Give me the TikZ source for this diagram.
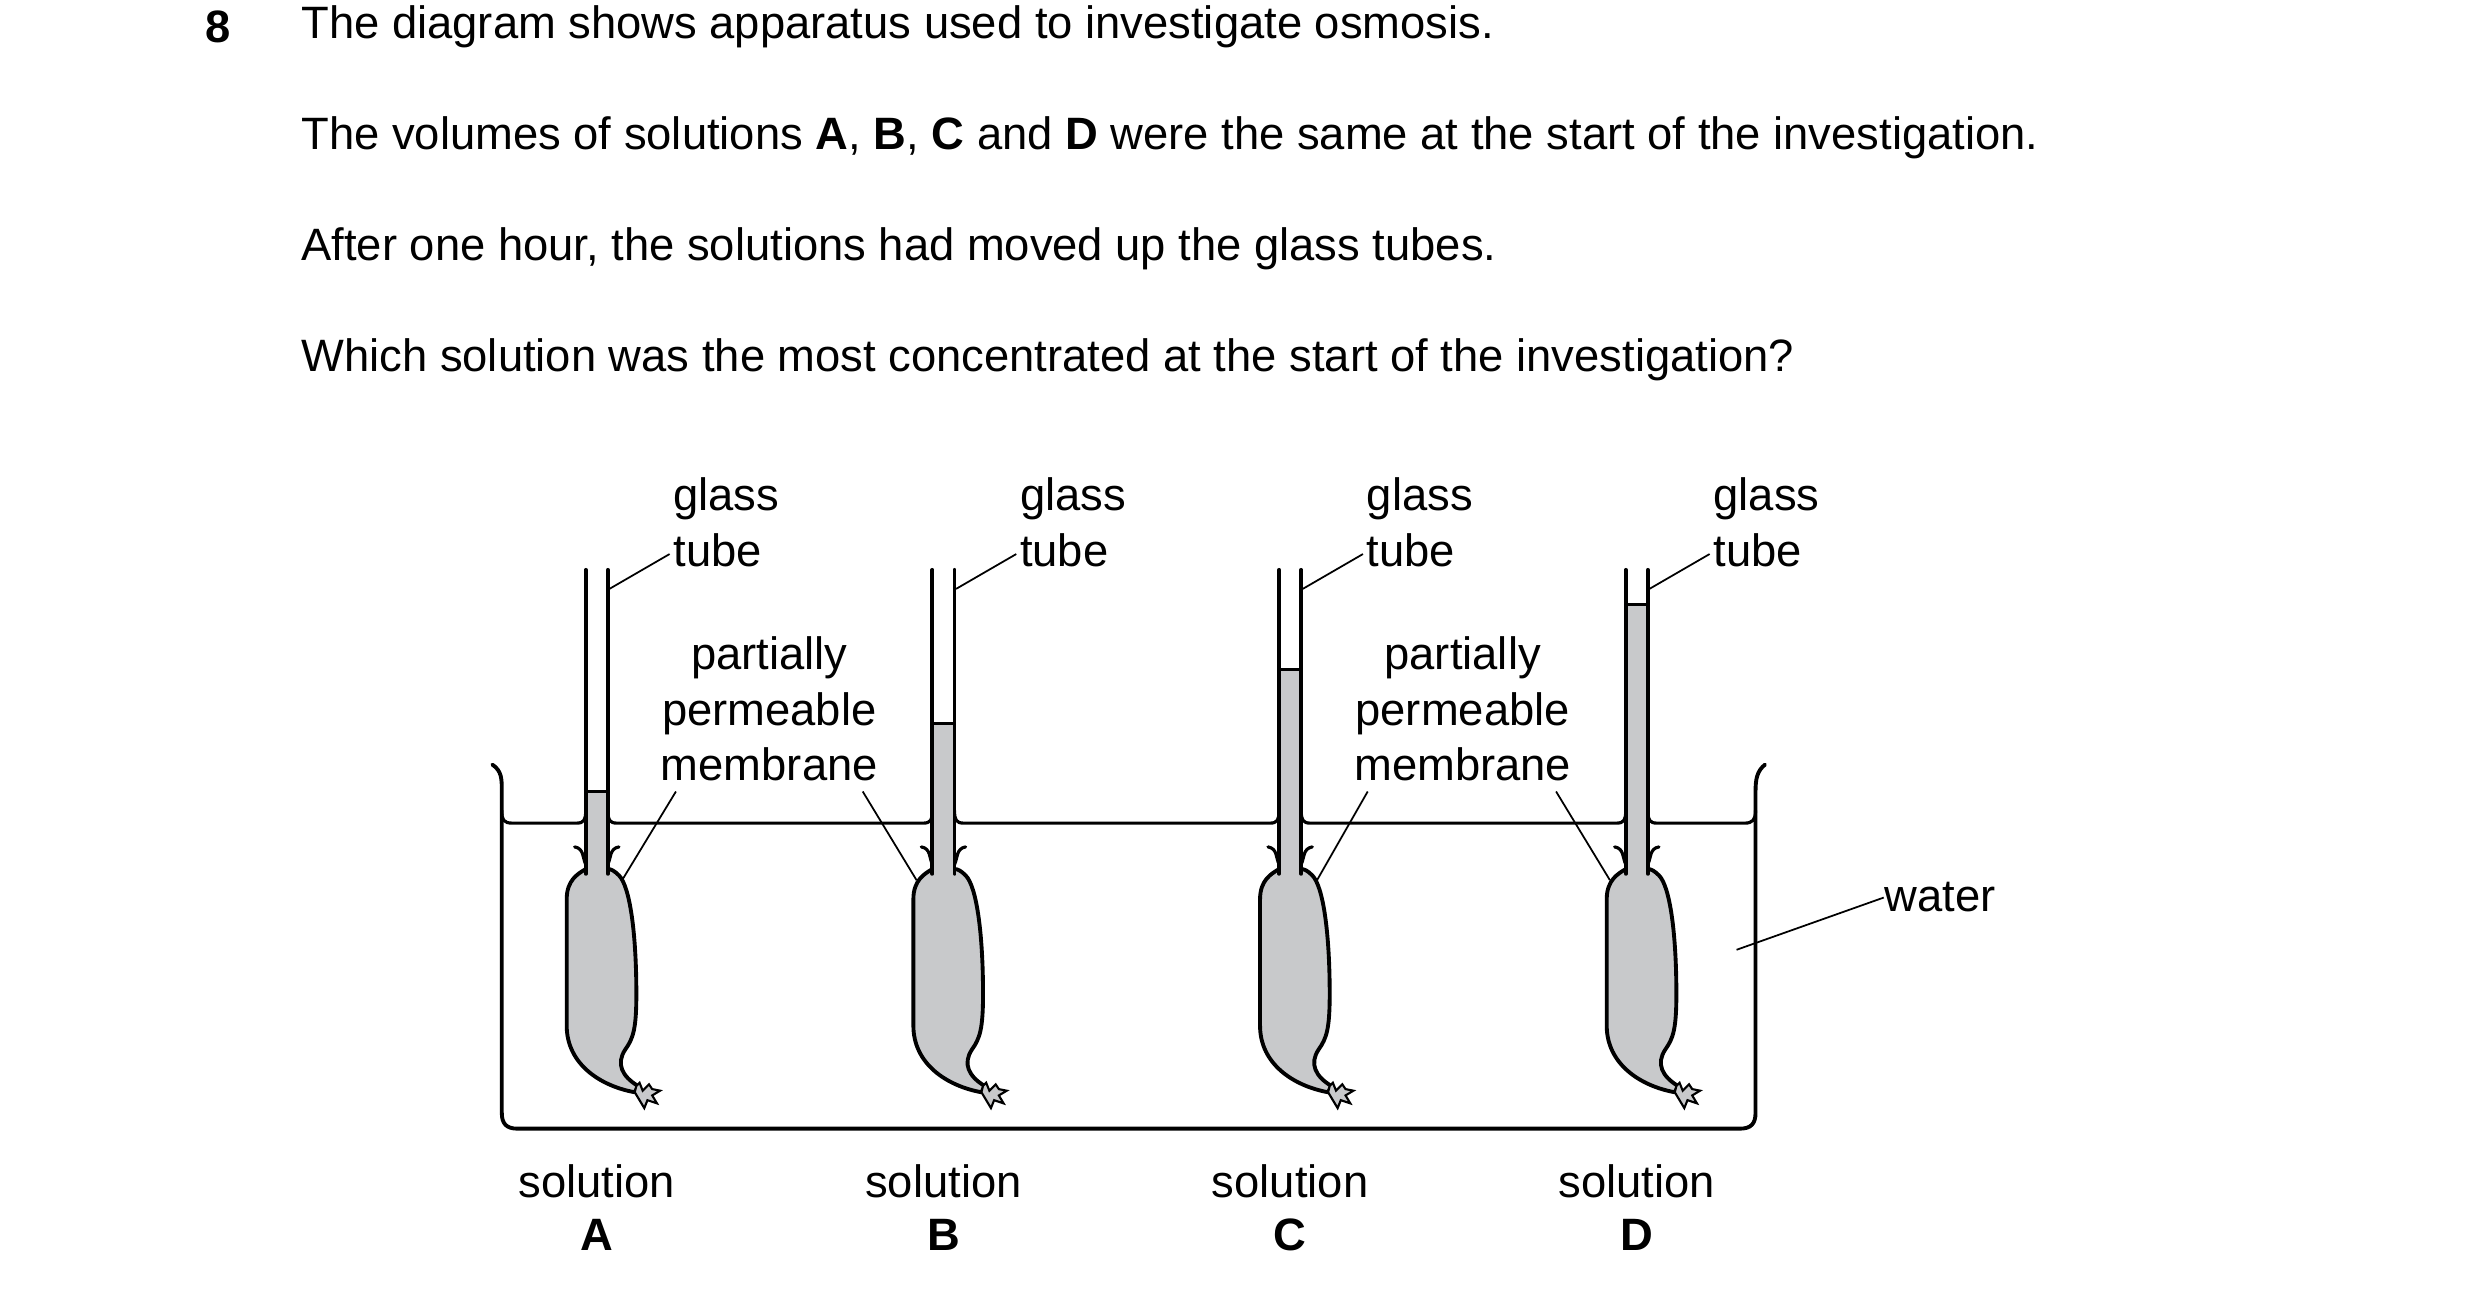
\documentclass[tikz,border=0pt]{standalone}
\usepackage{fontspec}
\setmainfont{Liberation Sans}
\usetikzlibrary{positioning}
\definecolor{fluid}{HTML}{C8C9CB}
\tikzset{
  txt/.style={font=\fontsize{12.9}{15.8}\selectfont, inner sep=0pt},
  lead/.style={line width=0.5pt},
  wall/.style={line width=1.1pt, line join=round, line cap=round},
}
\begin{document}
\begin{tikzpicture}[x=0.01583cm,y=-0.01583cm]
\useasboundingbox (0,0) rectangle (1567.3,815.6);
% question text
\node[txt,font=\bfseries\fontsize{12.9}{15.8}\selectfont] (num) at (138,17) {8};
\node[txt,anchor=west] (q1) at (190,17) {The diagram shows apparatus used to investigate osmosis.};
\node[txt,anchor=west] (q2) at (190,87) {The volumes of solutions \textbf{A}, \textbf{B}, \textbf{C} and \textbf{D} were the same at the start of the investigation.};
\node[txt,anchor=west] (q3) at (190,157) {After one hour, the solutions had moved up the glass tubes.};
\node[txt,anchor=west] (q4) at (190,227) {Which solution was the most concentrated at the start of the investigation?};
% beaker
\draw[wall] (311,483) .. controls (317,487) and (317,492) .. (317,500) -- (317,703)
  .. controls (317,710) and (320,713) .. (327,713) -- (1099,713)
  .. controls (1106,713) and (1109,710) .. (1109,703) -- (1109,500)
  .. controls (1109,492) and (1110,487) .. (1115,483);
% water surface
\draw[wall,line width=0.9pt] (317,512) .. controls (317,518) and (318,520) .. (324,520)
  -- (364,520) .. controls (369,520) and (370,518) .. (370,512);
\foreach \a/\b in {384/589,603/808,822/1027}
  \draw[wall,line width=0.9pt] (\a,512) .. controls (\a,518) and (\a+1,520) .. (\a+6,520)
  -- (\b-6,520) .. controls (\b-1,520) and (\b,518) .. (\b,512);
\draw[wall,line width=0.9pt] (1041,512) .. controls (1041,518) and (1042,520) .. (1047,520)
  -- (1102,520) .. controls (1107,520) and (1109,518) .. (1109,512);
% tubes and bags
\foreach \cx/\lvl/\n in {377/500/A,596/457/B,815/423/C,1034/382/D}{
  \filldraw[wall,fill=fluid] (\cx-7,549) .. controls (\cx-12,552) and (\cx-19,556) .. (\cx-19,568)
    -- (\cx-19,648) .. controls (\cx-19,672) and (\cx+2,686) .. (\cx+24,690)
    -- (\cx+26,686) .. controls (\cx+16,680) and (\cx+12,672) .. (\cx+18,663)
    .. controls (\cx+23,656) and (\cx+25,650) .. (\cx+25,628)
    .. controls (\cx+25,590) and (\cx+21,560) .. (\cx+14,553)
    .. controls (\cx+11,550) and (\cx+9,549) .. (\cx+7,549) -- cycle;
  % tie round the tube
  \draw[wall,line width=0.9pt] (\cx-14,535) .. controls (\cx-8,536) and (\cx-9,542) .. (\cx-7,546);
  \draw[wall,line width=0.9pt] (\cx+14,535) .. controls (\cx+8,536) and (\cx+9,542) .. (\cx+7,546);
  \fill[white] (\cx-6,\lvl-1) -- (\cx-6,360) -- (\cx+6,360) -- (\cx+6,\lvl-1);
  \fill[fluid] (\cx-6,\lvl) rectangle (\cx+6,552);
  \draw[line width=0.7pt] (\cx-7,\lvl) -- (\cx+7,\lvl);
  \draw[wall] (\cx-7,360) -- (\cx-7,552);
  \draw[wall] (\cx+7,360) -- (\cx+7,552);
  % knot
  \filldraw[line width=0.6pt,fill=fluid] (\cx+25,686) -- (\cx+27,684) -- (\cx+29,689) -- (\cx+33,685)
    -- (\cx+35,688) -- (\cx+40,689) -- (\cx+35,692) -- (\cx+38,697) -- (\cx+32,695) -- (\cx+30,700)
    -- (\cx+27,695) -- (\cx+24,690) -- cycle;
  \coordinate (t\n) at (\cx+8,372);
  \node[txt,anchor=west,align=left] (g\n) at (\cx+48,330) {glass\\tube};
  \draw[lead] (t\n) -- (\cx+46,350);
  \node[txt] (s\n) at (\cx,746) {solution};
  \node[txt,font=\bfseries\fontsize{12.9}{15.8}\selectfont] (l\n) at (\cx,780) {\n};
}
% membrane labels
\node[txt,align=center] (m1) at (486,448) {partially\\permeable\\membrane};
\node[txt,align=center] (m2) at (924,448) {partially\\permeable\\membrane};
\coordinate (bA) at (393,556);
\coordinate (bB) at (579,556);
\coordinate (bC) at (832,556);
\coordinate (bD) at (1017,556);
\draw[lead] (427,500) -- (bA);
\draw[lead] (545,500) -- (bB);
\draw[lead] (864,500) -- (bC);
\draw[lead] (983,500) -- (bD);
% water label
\node[txt,anchor=west] (w) at (1190,567) {water};
\coordinate (wp) at (1097,600);
\draw[lead] (wp) -- (w.west);
\end{tikzpicture}
\end{document}
